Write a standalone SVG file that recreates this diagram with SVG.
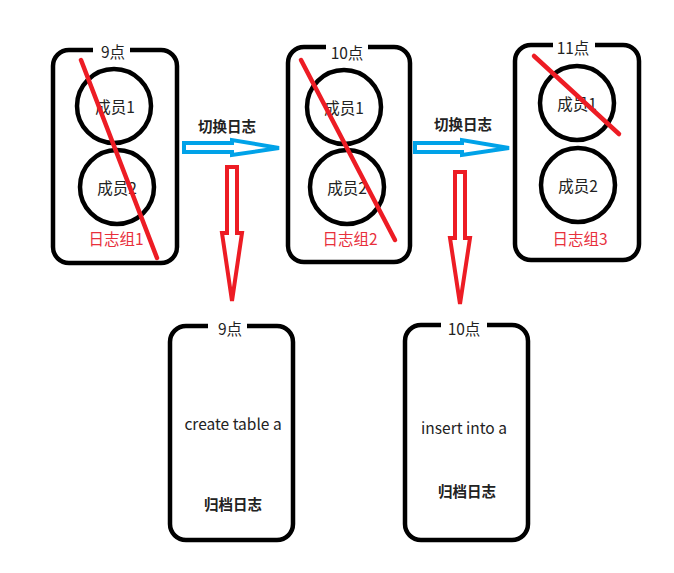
<svg xmlns="http://www.w3.org/2000/svg" width="674" height="573" viewBox="0 0 674 573">
<style>
.box{fill:none;stroke:#000;stroke-width:4.5}
.circ{fill:none;stroke:#000;stroke-width:4.5}
.gap{fill:#fff;stroke:none}
.t{font-family:"Noto Sans CJK SC","Microsoft YaHei",sans-serif;font-size:15.5px;fill:#222;text-anchor:middle;dominant-baseline:central}
.r{fill:#e8303c}
.b{font-weight:bold;font-size:14.5px}
.strike{stroke:#ed1c24;stroke-width:4.5;stroke-linecap:round}
.blue{fill:#fff;stroke:#00a2e8;stroke-width:4;stroke-linejoin:miter}
.red{fill:#fff;stroke:#ed1c24;stroke-width:4;stroke-linejoin:miter}
</style>
<rect width="674" height="573" fill="#fff"/>
<g id="group1">
<rect class="box" x="53" y="50" width="124" height="213" rx="16"/>
<rect class="gap" x="93" y="44" width="37" height="14"/>
<text class="t" x="113" y="51">9点</text>
<circle class="circ" cx="114" cy="106" r="37"/>
<text class="t" x="115" y="106">成员1</text>
<circle class="circ" cx="117" cy="187" r="37"/>
<text class="t" x="117" y="187">成员2</text>
<text class="t r" x="116" y="238">日志组1</text>
<line class="strike" x1="81" y1="60" x2="157" y2="258"/>
</g>
<g id="group2">
<rect class="box" x="288" y="47" width="122" height="215" rx="16"/>
<rect class="gap" x="326" y="42" width="42" height="14"/>
<text class="t" x="347" y="52">10点</text>
<circle class="circ" cx="344" cy="107" r="37"/>
<text class="t" x="344" y="107">成员1</text>
<circle class="circ" cx="347" cy="187" r="37"/>
<text class="t" x="347" y="187">成员2</text>
<text class="t r" x="350" y="238">日志组2</text>
<line class="strike" x1="301" y1="60" x2="395" y2="240"/>
</g>
<g id="group3">
<rect class="box" x="515" y="45" width="124" height="215" rx="16"/>
<rect class="gap" x="553" y="40" width="42" height="13"/>
<text class="t" x="573" y="47">11点</text>
<circle class="circ" cx="577" cy="103" r="37"/>
<text class="t" x="577" y="103">成员1</text>
<circle class="circ" cx="578" cy="185" r="37"/>
<text class="t" x="578" y="185">成员2</text>
<text class="t r" x="580" y="238">日志组3</text>
<line class="strike" x1="534" y1="56" x2="619" y2="134"/>
</g>
<g id="archive1">
<rect class="box" x="170" y="326" width="123" height="214" rx="16"/>
<rect class="gap" x="208" y="320" width="39" height="13"/>
<text class="t" x="230" y="328">9点</text>
<text class="t" x="233" y="423">create table a</text>
<text class="t b" x="233" y="503">归档日志</text>
</g>
<g id="archive2">
<rect class="box" x="405" y="325" width="123" height="215" rx="16"/>
<rect class="gap" x="441" y="319" width="46" height="13"/>
<text class="t" x="464" y="328">10点</text>
<text class="t" x="464" y="427">insert into a</text>
<text class="t b" x="467" y="490">归档日志</text>
</g>
<g id="connectors">
<text class="t b" x="227" y="125">切换日志</text>
<text class="t b" x="463" y="123">切换日志</text>
<path class="blue" d="M184,143 L232,143 L232,140 L279,148 L232,155 L232,152 L184,152 Z"/>
<path class="blue" d="M415,143 L462,143 L462,140 L509,148 L462,155 L462,152 L415,152 Z"/>
<path class="red" d="M227,167 L237,167 L237,233 L242,233 L232,301 L222,233 L227,233 Z"/>
<path class="red" d="M455,172 L465,172 L465,238 L470,238 L460,304 L450,238 L455,238 Z"/>
</g>
</svg>
